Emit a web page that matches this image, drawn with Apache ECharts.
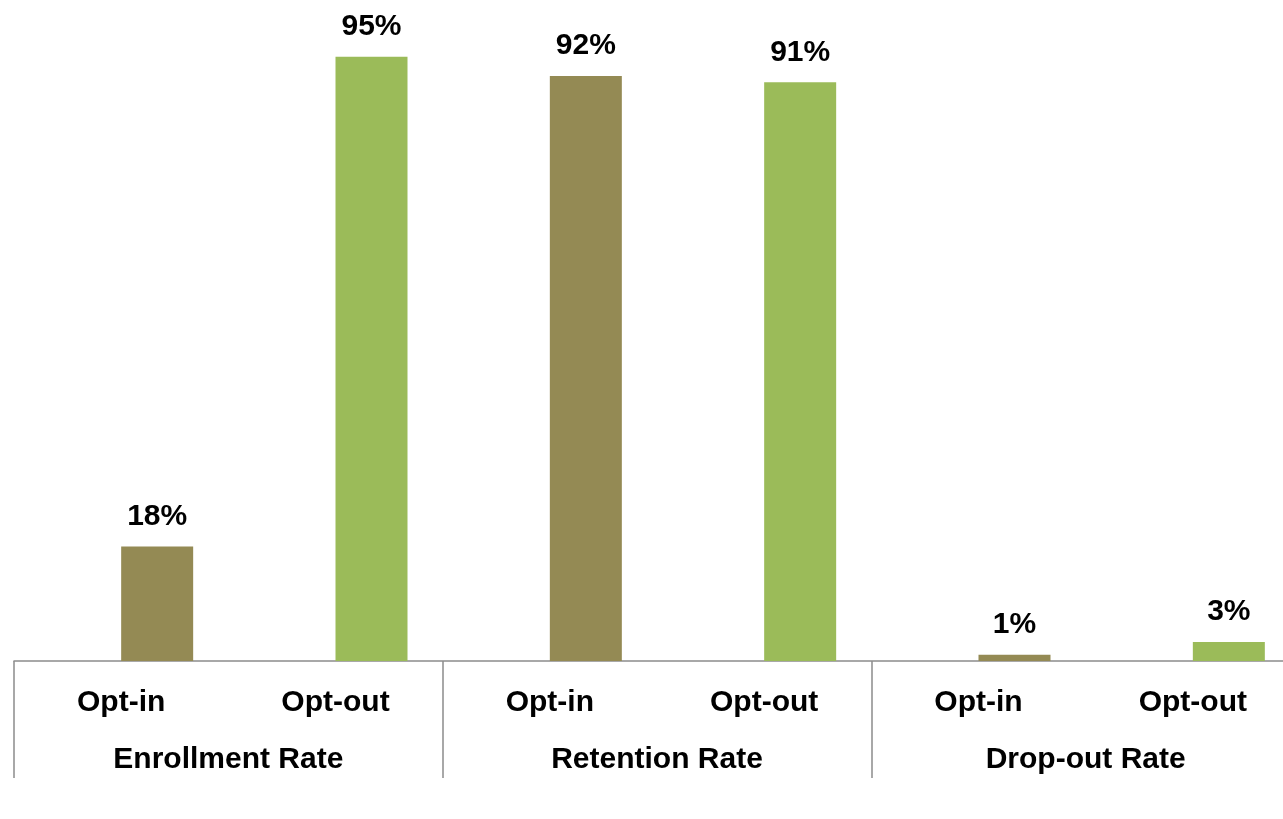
<!DOCTYPE html>
<html>
<head>
<meta charset="utf-8">
<script src="https://cdn.jsdelivr.net/npm/echarts@6/dist/echarts.min.js"></script>
<style>html,body{margin:0;padding:0;background:#fff;overflow:hidden;width:1283px;height:819px;}#c{width:1340px;height:819px;}</style>
</head>
<body>
<div id="c"></div>
<script>
const barLabels = ['Opt-in', 'Opt-out', 'Opt-in', 'Opt-out', 'Opt-in', 'Opt-out'];
const groupLabels = ['Enrollment Rate', 'Retention Rate', 'Drop-out Rate'];
const values = [18, 95, 92, 91, 1, 3];
const barColors = ['#948A54', '#9BBB59', '#948A54', '#9BBB59', '#948A54', '#9BBB59'];

const font = '"Liberation Sans", Arial, sans-serif';
const chart = echarts.init(document.getElementById('c'));
chart.setOption({
  animation: false,
  backgroundColor: '#ffffff',
  grid: [
    { left: 50, width: 1286, top: 25, bottom: 158 },
    { left: 14, width: 1286, top: 25, bottom: 158 }
  ],
  xAxis: [
    { gridIndex: 0, type: 'category', data: barLabels, show: false },
    {
      gridIndex: 1, type: 'category', data: barLabels, position: 'bottom',
      axisLine: { show: true, lineStyle: { color: '#8c8c8c', width: 1.5 } },
      axisTick: { show: false },
      axisLabel: { margin: 27, color: '#000', fontFamily: font, fontWeight: 'bold', fontSize: 30 }
    },
    {
      gridIndex: 1, type: 'category', data: groupLabels, position: 'bottom', offset: 0,
      axisLine: { show: false },
      axisTick: { show: true, length: 117, lineStyle: { color: '#8c8c8c', width: 1.5 } },
      axisLabel: { margin: 84, color: '#000', fontFamily: font, fontWeight: 'bold', fontSize: 30 }
    }
  ],
  yAxis: [
    { gridIndex: 0, type: 'value', min: 0, max: 100, show: false },
    { gridIndex: 1, type: 'value', min: 0, max: 100, show: false }
  ],
  series: [{
    type: 'bar',
    xAxisIndex: 0, yAxisIndex: 0,
    barWidth: 72,
    data: values.map((v, i) => ({ value: v, itemStyle: { color: barColors[i] } })),
    label: {
      show: true, position: 'top', distance: 15,
      formatter: p => p.value + '%',
      color: '#000', fontFamily: font, fontWeight: 'bold', fontSize: 30
    }
  }]
});
</script>
</body>
</html>
